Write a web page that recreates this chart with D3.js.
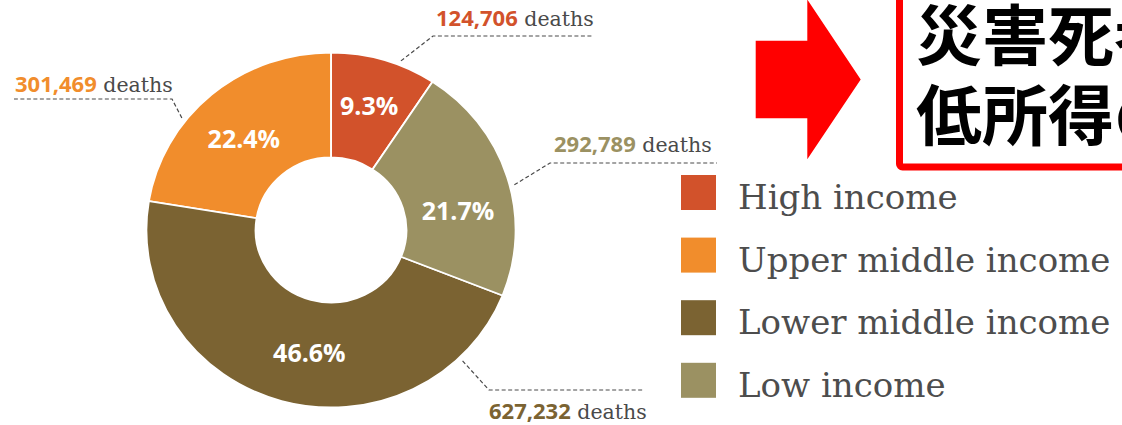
<!DOCTYPE html>
<html>
<head>
<meta charset="utf-8">
<script src="https://cdn.jsdelivr.net/npm/d3@7"></script>
<style>
  html, body { margin: 0; padding: 0; background: #ffffff; }
  svg { display: block; }
</style>
</head>
<body>
<svg id="chart" width="1122" height="425"></svg>
<script>
// ---- data ----
const categories = ["High income", "Upper middle income", "Lower middle income", "Low income"];
const deaths = [124706, 301469, 627232, 292789];
const percentLabels = ["9.3%", "22.4%", "46.6%", "21.7%"];
const pieOrder = [0, 3, 2, 1]; // clockwise from 12 o'clock: High, Low, Lower middle, Upper middle
const colors = ["#D2522B", "#F18D2C", "#7B6332", "#9B9162"];
const titleLines = ["災害死者の半数近くは", "低所得の国々に集中"];

// ---- layout ----
const W = 1122, H = 425;
const cx = 331, cy = 230;
const stretchX = 1.04;
const outerR = 177.5, innerR = 72.5;
const labelR = 128;
const labelNudge = [[0, -1], [-1, 6.5], [14, 0], [0, 19.5]];
// callouts: anchor fraction within slice, elbow, end, text position
const callouts = [
  { frac: 0.65, elbow: [433, 36], endX: 593, textX: 436, textY: 26 },
  { frac: 0.355, elbow: [172, 99], endX: 14, textX: 15, textY: 92 },
  { frac: 0.145, elbow: [489, 390], endX: 644, textX: 489, textY: 419 },
  { frac: 0.54, elbow: [550, 163], endX: 717, textX: 554, textY: 152 }
];

const svg = d3.select("#chart");
svg.append("rect").attr("width", W).attr("height", H).attr("fill", "#ffffff");

const data = categories.map((c, i) => ({ i, name: c, value: deaths[i], label: percentLabels[i], color: colors[i] }));

const pie = d3.pie()
  .value(d => d.value)
  .sort((a, b) => pieOrder.indexOf(a.i) - pieOrder.indexOf(b.i));
const arcs = pie(data);

const arc = d3.arc().innerRadius(innerR).outerRadius(outerR);

const g = svg.append("g").attr("transform", `translate(${cx},${cy}) scale(${stretchX},1)`);
g.selectAll("path.slice")
  .data(arcs)
  .join("path")
  .attr("class", "slice")
  .attr("d", arc)
  .attr("fill", d => d.data.color)
  .attr("stroke", "#ffffff")
  .attr("stroke-width", 1.8)
  .attr("stroke-linejoin", "round");

// percent labels
const labelArc = d3.arc().innerRadius(labelR).outerRadius(labelR);
svg.append("g").selectAll("text")
  .data(arcs)
  .join("text")
  .attr("x", d => cx + labelArc.centroid(d)[0] * stretchX + labelNudge[d.data.i][0])
  .attr("y", d => cy + labelArc.centroid(d)[1] + labelNudge[d.data.i][1])
  .attr("dy", "0.36em")
  .attr("text-anchor", "middle")
  .attr("fill", "#ffffff")
  .style("font-family", "'Open Sans', Lato, sans-serif")
  .style("font-weight", 700)
  .style("font-size", "25px")
  .text(d => d.data.label);

// callouts
const fmt = d3.format(",");
const cg = svg.append("g");
arcs.forEach(a => {
  const i = a.data.i;
  const c = callouts[i];
  const ang = a.startAngle + c.frac * (a.endAngle - a.startAngle);
  const r = outerR + 4.5;
  const sx = cx + Math.sin(ang) * r * stretchX;
  const sy = cy - Math.cos(ang) * r;
  cg.append("path")
    .attr("d", d3.line()([[sx, sy], c.elbow, [c.endX, c.elbow[1]]]))
    .attr("fill", "none")
    .attr("stroke", "#4a4a4a")
    .attr("stroke-width", 1.2)
    .attr("stroke-dasharray", "4,2.5");
  const t = cg.append("text")
    .attr("x", c.textX)
    .attr("y", c.textY);
  t.append("tspan")
    .style("font-family", "'Open Sans', Lato, sans-serif")
    .style("font-weight", 700)
    .style("font-size", "22px")
    .attr("fill", a.data.color)
    .text(fmt(a.data.value));
  t.append("tspan")
    .style("font-family", "'DejaVu Serif', serif")
    .style("font-size", "20.5px")
    .attr("fill", "#4a4a4a")
    .text(" deaths");
});

// legend
const legendY0 = 175, legendStep = 62.6, sq = 35, legendX = 681;
const lg = svg.append("g");
categories.forEach((c, i) => {
  const y = legendY0 + i * legendStep;
  lg.append("rect")
    .attr("x", legendX).attr("y", y)
    .attr("width", sq).attr("height", sq)
    .attr("fill", colors[i]);
  lg.append("text")
    .attr("x", 738).attr("y", y + sq / 2 + 16.5)
    .style("font-family", "'DejaVu Serif', serif")
    .style("font-size", "34px")
    .attr("fill", "#4d4d4d")
    .text(c);
});

// red arrow
const arrowPts = [[755.7, 40.7], [807.3, 40.7], [807.3, -0.5], [860.7, 79.4], [807.3, 159.3], [807.3, 118.3], [755.7, 118.3]];
svg.append("path")
  .attr("d", d3.line()(arrowPts) + "Z")
  .attr("fill", "#ff0000");

// red box with title
svg.append("rect")
  .attr("x", 899.5).attr("y", -20)
  .attr("width", 320).attr("height", 187)
  .attr("rx", 3)
  .attr("fill", "#ffffff")
  .attr("stroke", "#ff0000")
  .attr("stroke-width", 7);

svg.append("g").selectAll("text")
  .data(titleLines)
  .join("text")
  .attr("x", 916)
  .attr("y", (d, i) => 60 + i * 80)
  .style("font-family", "'Noto Sans CJK JP', sans-serif")
  .style("font-weight", 700)
  .style("font-size", "66px")
  .attr("fill", "#000000")
  .text(d => d);
</script>
</body>
</html>
